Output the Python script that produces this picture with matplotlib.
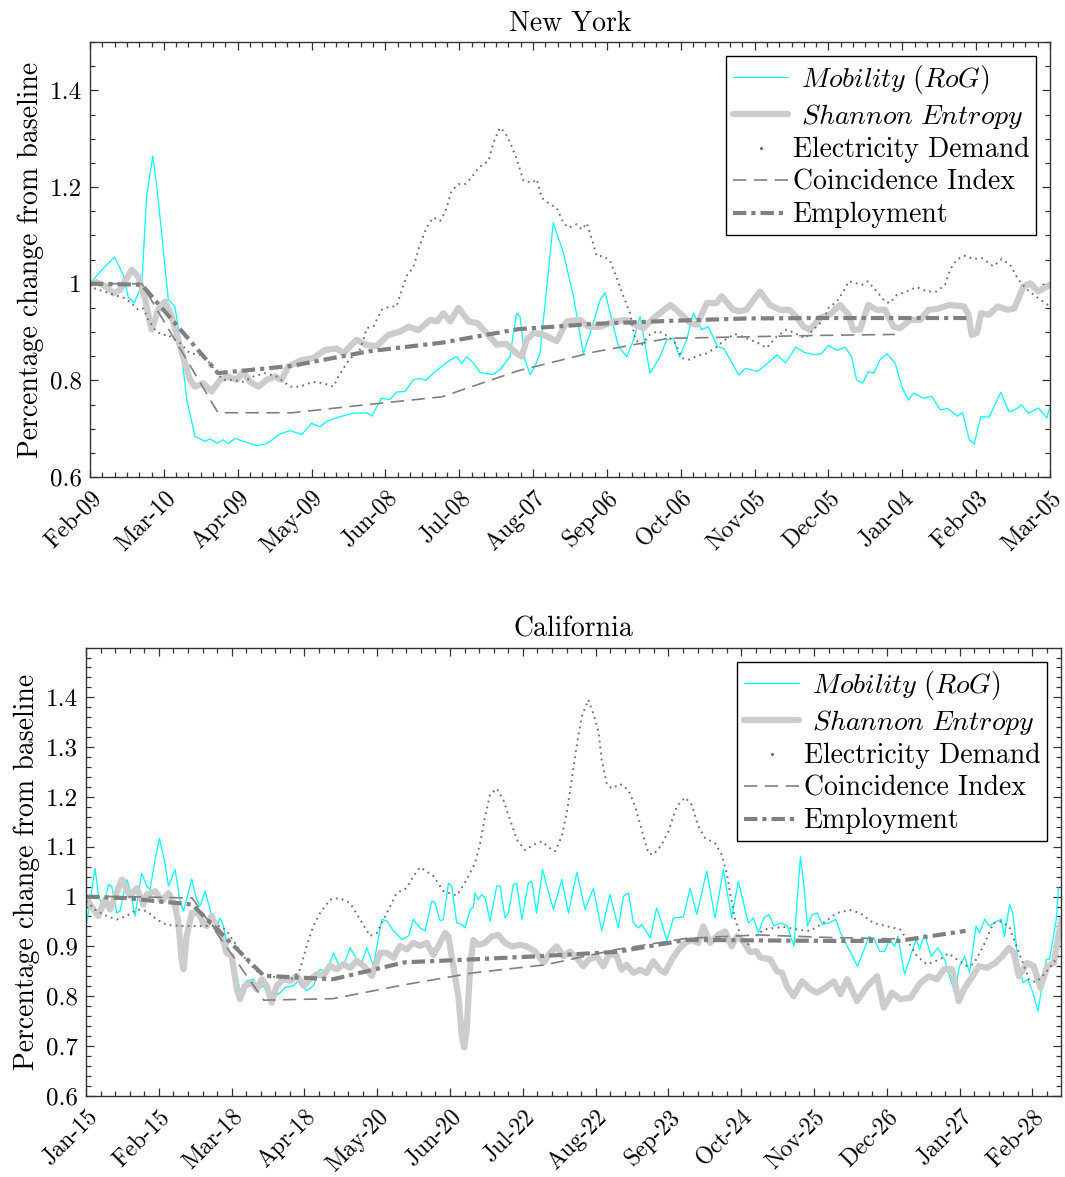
import matplotlib
matplotlib.use('Agg')
import matplotlib.pyplot as plt
import numpy as np
from matplotlib.lines import Line2D
from matplotlib.ticker import AutoMinorLocator, MultipleLocator, FixedLocator, FuncFormatter

plt.rcParams['font.family'] = 'serif'
plt.rcParams['font.serif'] = ['cmr10']
plt.rcParams['mathtext.fontset'] = 'cm'
plt.rcParams['axes.formatter.use_mathtext'] = True

# ---------------- New York (days since Feb 9, 2020) ----------------
ny_ticklabels = ['Feb-09', 'Mar-10', 'Apr-09', 'May-09', 'Jun-08', 'Jul-08', 'Aug-07',
                 'Sep-06', 'Oct-06', 'Nov-05', 'Dec-05', 'Jan-04', 'Feb-03', 'Mar-05']

ny_mob_day = [0, 4, 7, 10, 13.5, 15.6, 18, 20, 21, 23, 25.5, 27.1, 29.1, 31.8, 34.5, 36.6, 39.3,
              42.7, 46.7, 48.8, 51.5, 54.2, 56.2, 58.9, 62.3, 67.7, 71.8, 77.2, 81.3, 86, 90,
              93.4, 96.2, 101.6, 107, 112.4, 114.4, 118.5, 121.9, 124.6, 128, 131.3, 134, 136.5,
              139.5, 142.9, 146.3, 149, 151, 153, 156, 158.5, 161, 163.7, 166.6, 170.6, 173.3,
              174.7, 176.7, 178.8, 180.8, 182.8, 185.6, 188.2, 192.3, 196.4, 200.4, 203.2,
              207.3, 209.3, 211.3, 214.7, 218.1, 220.8, 223.5, 227.5, 231.6, 234.3, 237, 239.5,
              242.4, 245.1, 248.5, 251.2, 254.9, 257.5, 263.6, 266.3, 271.1, 274.5, 279.2,
              282.6, 286.7, 290.1, 294.1, 297, 300, 303.4, 306.7, 309.4, 311.4, 313.9, 316.2,
              318.5, 321, 323.7, 327.1, 329.8, 332.5, 334.6, 338.6, 342, 345.4, 348.4, 352.4,
              354.5, 357.2, 359.2, 361.9, 365.3, 367.3, 370, 373.4, 375.8, 378.5, 381.2, 385.3,
              388.7, 390]
ny_mob_val = [1.000, 1.024, 1.040, 1.055, 1.018, 0.972, 0.960, 0.985, 0.994, 1.181, 1.264, 1.202,
              1.105, 0.967, 0.953, 0.884, 0.760, 0.684, 0.674, 0.679, 0.670, 0.677, 0.669, 0.680,
              0.674, 0.665, 0.669, 0.689, 0.696, 0.688, 0.711, 0.704, 0.715, 0.725, 0.732, 0.733,
              0.726, 0.763, 0.760, 0.776, 0.777, 0.801, 0.804, 0.800, 0.815, 0.829, 0.842, 0.849,
              0.835, 0.849, 0.835, 0.816, 0.814, 0.812, 0.822, 0.849, 0.939, 0.932, 0.843, 0.812,
              0.829, 0.856, 0.994, 1.126, 1.064, 0.974, 0.856, 0.898, 0.967, 0.981, 0.939, 0.870,
              0.849, 0.884, 0.932, 0.815, 0.849, 0.884, 0.887, 0.849, 0.884, 0.939, 0.905, 0.911,
              0.870, 0.866, 0.811, 0.825, 0.818, 0.832, 0.853, 0.836, 0.869, 0.858, 0.853, 0.855,
              0.872, 0.862, 0.869, 0.849, 0.801, 0.794, 0.818, 0.815, 0.843, 0.855, 0.836, 0.787,
              0.759, 0.774, 0.763, 0.767, 0.739, 0.742, 0.726, 0.733, 0.677, 0.668, 0.725, 0.724,
              0.746, 0.775, 0.735, 0.739, 0.749, 0.732, 0.743, 0.722, 0.746]

ny_ent_day = [0, 2.7, 7, 9.5, 12.2, 16.9, 19.6, 22.3, 25, 27.7, 30.5, 33.2, 36.6, 40.6, 42.7, 46,
              49.4, 52.8, 56.2, 59.6, 62.3, 65, 68.4, 71.8, 75.1, 77.8, 80.6, 86, 90.7, 95.5,
              100.2, 103, 108.3, 112.4, 116.5, 121.2, 126, 129.3, 133.4, 138.2, 141, 143.6, 146.3,
              149.7, 153.8, 157.5, 161.1, 165.2, 169, 173.3, 175.4, 177.4, 180.1, 184, 189.6,
              193.7, 199.2, 202.5, 207.3, 212.7, 218.1, 221.5, 224.9, 229, 235.8, 239.7, 243.8,
              246.5, 250.6, 254.5, 256.6, 261.3, 263.9, 266.6, 272.2, 276.2, 280.3, 284.1, 287,
              289.8, 292.4, 296.5, 300.6, 304.7, 308.2, 310, 312.8, 316.2, 319.6, 323, 326.4,
              329.1, 333.2, 337.3, 340.6, 344.4, 348.9, 355, 356.9, 358.2, 360.3, 362, 365.3,
              368.7, 372.8, 375.5, 379.2, 381.9, 385.3, 390]
ny_ent_val = [1.000, 1.003, 0.993, 0.980, 0.987, 1.029, 1.015, 0.970, 0.905, 0.946, 0.963, 0.932,
              0.870, 0.801, 0.787, 0.794, 0.777, 0.801, 0.808, 0.801, 0.818, 0.797, 0.787, 0.801,
              0.808, 0.801, 0.829, 0.842, 0.846, 0.863, 0.866, 0.856, 0.884, 0.873, 0.871, 0.894,
              0.901, 0.911, 0.904, 0.925, 0.922, 0.939, 0.922, 0.950, 0.922, 0.918, 0.898, 0.874,
              0.876, 0.856, 0.849, 0.884, 0.898, 0.895, 0.881, 0.922, 0.925, 0.911, 0.911, 0.922,
              0.925, 0.915, 0.908, 0.929, 0.956, 0.939, 0.919, 0.915, 0.960, 0.960, 0.974, 0.946,
              0.943, 0.946, 0.984, 0.956, 0.946, 0.946, 0.932, 0.911, 0.905, 0.929, 0.936, 0.956,
              0.936, 0.905, 0.905, 0.956, 0.946, 0.946, 0.911, 0.908, 0.925, 0.925, 0.946, 0.948,
              0.956, 0.953, 0.936, 0.894, 0.898, 0.939, 0.936, 0.953, 0.946, 0.949, 0.994, 1.001,
              0.984, 0.998]

ny_elec_day = [0, 2, 8, 11.5, 14.2, 17.6, 19.6, 21.7, 23.7, 26.4, 29.1, 31.8, 34.5, 36.6, 40.6,
               44.7, 48.1, 51.5, 54.2, 58.3, 62.3, 66.4, 71.1, 75.8, 81.3, 85.3, 90.7, 94.8, 98.9,
               100.9, 103, 105.7, 109.1, 111.1, 112.4, 115.2, 118.5, 121.9, 124.6, 126, 128.6,
               131.3, 134, 136.7, 139.5, 142.2, 144.2, 146.9, 149.7, 152.4, 155.1, 157.8, 161.9,
               163.9, 166.6, 168.7, 170.7, 173.4, 176.1, 179.5, 181.5, 183.5, 186.9, 189.6, 192.3,
               194.4, 197.8, 199.8, 201.8, 203.9, 205.9, 208.6, 211.3, 214, 216.7, 219.4, 221.5,
               224.2, 227.5, 230.9, 235, 237.8, 240.5, 243.5, 246.5, 250.6, 254, 258, 262, 266.8,
               271.5, 274.9, 279, 283, 286.4, 290.5, 293.9, 298, 300, 303.4, 306.1, 308.2, 311,
               314, 316, 319.6, 323, 325, 327.8, 331.8, 335.9, 340, 344, 347.4, 349.4, 352.1,
               355.5, 358.9, 362.3, 367, 370.4, 373.8, 377.2, 380.6, 385.3, 390]
ny_elec_val = [1.000, 0.990, 0.980, 0.974, 0.970, 0.956, 0.946, 0.949, 0.925, 0.905, 0.894, 0.894,
               0.884, 0.877, 0.856, 0.853, 0.839, 0.815, 0.801, 0.801, 0.797, 0.808, 0.815, 0.808,
               0.787, 0.787, 0.797, 0.794, 0.787, 0.808, 0.825, 0.846, 0.856, 0.884, 0.908, 0.912,
               0.946, 0.953, 0.953, 0.977, 1.016, 1.033, 1.080, 1.116, 1.137, 1.130, 1.147, 1.192,
               1.206, 1.206, 1.220, 1.240, 1.254, 1.292, 1.323, 1.312, 1.292, 1.257, 1.213, 1.209,
               1.216, 1.178, 1.164, 1.157, 1.126, 1.116, 1.123, 1.112, 1.125, 1.092, 1.057, 1.057,
               1.047, 1.012, 0.974, 0.939, 0.884, 0.874, 0.895, 0.902, 0.891, 0.877, 0.846, 0.843,
               0.850, 0.856, 0.867, 0.884, 0.896, 0.887, 0.877, 0.867, 0.891, 0.905, 0.898, 0.887,
               0.905, 0.925, 0.950, 0.963, 0.984, 1.005, 1.001, 0.998, 1.005, 0.984, 0.963, 0.960,
               0.977, 0.984, 0.993, 0.984, 0.984, 0.998, 1.029, 1.050, 1.058, 1.051, 1.053, 1.036,
               1.051, 1.039, 1.008, 0.988, 0.970, 0.953]

ny_coin_day = [0, 21, 52, 82, 113, 143, 174, 205, 235, 266, 296, 327]
ny_coin_val = [1.000, 1.000, 0.733, 0.733, 0.750, 0.766, 0.820, 0.859, 0.887, 0.890, 0.893, 0.895]

ny_emp_day = [0, 21, 52, 82, 113, 143, 174, 205, 235, 266, 296, 327, 356]
ny_emp_val = [1.000, 0.998, 0.815, 0.830, 0.860, 0.878, 0.906, 0.917, 0.923, 0.928, 0.929, 0.929, 0.929]

# ---------------- California (days since Jan 15, 2020) ----------------
ca_ticklabels = ['Jan-15', 'Feb-15', 'Mar-18', 'Apr-18', 'May-20', 'Jun-20', 'Jul-22', 'Aug-22',
                 'Sep-23', 'Oct-24', 'Nov-25', 'Dec-26', 'Jan-27', 'Feb-28']

ca_mob_day = [0, 1, 3.9, 5.3, 7.5, 9.7, 11.1, 13.3, 14.7, 17.6, 19.1, 21.2, 24.1, 26.3, 27.7, 29.9,
              31.8, 34.2, 35.7, 38.6, 40.7, 42.2, 45.8, 47.9, 49.4, 51.6, 53.7, 55.9, 58.1, 59.5,
              61.7, 64.6, 66.7, 69.6, 72.5, 74.7, 76.8, 79.7, 84.1, 86.2, 89.8, 92, 95.6, 98.5,
              101.4, 104.3, 107.2, 110, 111.5, 114.4, 117.3, 119.4, 121.6, 124.5, 128.1, 130.3,
              133.2, 136.8, 139.7, 141.8, 144.7, 146.9, 149.8, 151.2, 153.4, 154.8, 157, 158.4,
              160.6, 162.8, 164.2, 166.4, 167.8, 168.5, 170, 171.4, 172.9, 175, 177.9, 179.4,
              181.5, 183, 185.1, 186.6, 188.8, 191.6, 193.1, 195.2, 197.8, 199.6, 202.5, 206.1,
              209, 212.6, 216.2, 219.8, 223.4, 227, 230.6, 232.8, 235, 237.1, 239.3, 240.7, 244.4,
              247.2, 249.4, 251.6, 254.5, 258.8, 261.7, 264.6, 268.9, 272.5, 276.1, 279.7, 282.6,
              286.9, 289.1, 291.3, 293.6, 295.8, 298, 300.9, 303.8, 306.7, 308.1, 309.5, 311,
              312.5, 314.7, 316.8, 319, 321.9, 324.8, 326.9, 330.5, 334.2, 337.1, 339.2, 341.5,
              343.9, 346, 348.1, 350.3, 351.7, 354.6, 357.5, 359.7, 361.1, 363.3, 366.2, 369,
              371.9, 374.1, 376.3, 378.4, 380.6, 382.8, 385.6, 387.1, 389.3, 391.4, 394.3, 396.5,
              397.9, 400.1, 401.5, 403.7, 405.9, 408, 410.2, 412.4, 414.6, 416, 417.4, 418.9,
              420.3, 421.3]
ca_mob_val = [0.941, 0.967, 1.057, 1.004, 0.977, 1.024, 1.021, 0.967, 0.971, 1.034, 1.014, 0.961,
              1.047, 1.021, 1.014, 1.074, 1.117, 1.067, 1.021, 1.054, 0.991, 0.971, 1.035, 0.994,
              0.981, 1.011, 0.974, 0.934, 0.957, 0.941, 0.894, 0.861, 0.811, 0.831, 0.834, 0.814,
              0.821, 0.794, 0.807, 0.817, 0.821, 0.831, 0.811, 0.821, 0.854, 0.847, 0.887, 0.857,
              0.861, 0.897, 0.874, 0.867, 0.897, 0.861, 0.954, 0.951, 0.931, 0.914, 0.921, 0.954,
              0.937, 0.931, 0.991, 0.987, 0.951, 0.954, 1.027, 1.021, 0.947, 0.944, 0.937, 0.974,
              0.979, 1.007, 0.994, 1.004, 0.997, 0.951, 1.021, 1.021, 0.957, 0.967, 1.024, 1.026,
              0.954, 1.027, 1.031, 0.967, 1.054, 1.021, 0.974, 1.034, 0.967, 1.049, 0.974, 1.017,
              0.931, 1.004, 0.937, 1.001, 1.007, 0.947, 0.937, 0.944, 0.917, 0.977, 0.947, 0.911,
              0.957, 0.959, 1.017, 0.964, 1.051, 0.957, 1.054, 0.957, 1.031, 0.947, 0.957, 0.927,
              0.957, 0.964, 0.941, 0.947, 0.941, 0.900, 0.994, 1.080, 1.021, 0.941, 0.964, 0.967,
              0.944, 0.947, 0.954, 0.927, 0.894, 0.860, 0.894, 0.920, 0.914, 0.890, 0.890, 0.914,
              0.900, 0.920, 0.844, 0.885, 0.914, 0.894, 0.924, 0.880, 0.897, 0.874, 0.840, 0.807,
              0.860, 0.880, 0.847, 0.941, 0.927, 0.954, 0.941, 0.950, 0.954, 0.920, 0.984, 0.967,
              0.874, 0.827, 0.834, 0.807, 0.770, 0.834, 0.874, 0.874, 0.914, 0.954, 1.017]

ca_ent_day = [0, 3.2, 5.3, 8.2, 10.4, 12.6, 15.5, 19.1, 22, 24.8, 26.3, 29.9, 32.8, 35.7, 38.6, 40,
              41.4, 42.2, 43.6, 45.8, 48.7, 50.8, 52.3, 54.4, 56.6, 58.8, 60.9, 63.1, 65.3, 66.7,
              68.9, 71.8, 73.9, 76.1, 78.3, 80.4, 82.6, 85.5, 88.4, 91.3, 94.2, 97.1, 99.9, 102.8,
              105.7, 108.6, 111.5, 114.4, 117.3, 120.2, 123.8, 127.4, 130.3, 133.2, 136, 138.9,
              141.8, 144.7, 147.6, 150.5, 152.6, 155.5, 157, 159.1, 161.3, 162.8, 163.8, 164.9,
              166.4, 167.8, 170, 172.8, 175.7, 178.6, 181.5, 184.4, 188, 190.9, 194.5, 198.2, 201,
              203.9, 206.8, 209.7, 212.6, 215.4, 217.6, 221.2, 224.1, 227, 229.9, 232, 234.2,
              237.1, 240, 242.9, 245.7, 248.6, 250.8, 253.7, 256.6, 259.5, 262.4, 265.2, 267.4,
              270.3, 273.9, 276.8, 279.7, 281.9, 284.7, 287.6, 290.5, 292, 296.4, 299.3, 301.5,
              303.6, 306.5, 310.2, 313.8, 316.7, 320.3, 323.9, 326.8, 329.7, 334, 338.4, 342.7,
              345.6, 349.2, 352.8, 357.2, 361.5, 365.1, 368.7, 371.6, 375.2, 378.1, 380.3, 383.2,
              386.8, 390.4, 394, 396.9, 399.8, 402, 404.1, 407.7, 410.6, 413.5, 416.4, 419.3, 422.5]
ca_ent_val = [0.997, 0.974, 0.961, 0.994, 0.974, 1.001, 1.034, 1.001, 1.017, 0.984, 1.004, 1.011,
              0.991, 1.007, 0.981, 0.947, 0.874, 0.854, 0.921, 0.967, 0.967, 0.947, 0.941, 0.961,
              0.937, 0.921, 0.887, 0.881, 0.814, 0.794, 0.821, 0.827, 0.814, 0.834, 0.821, 0.787,
              0.821, 0.834, 0.831, 0.841, 0.821, 0.834, 0.844, 0.841, 0.861, 0.854, 0.864, 0.857,
              0.871, 0.861, 0.841, 0.887, 0.887, 0.877, 0.901, 0.894, 0.907, 0.901, 0.907, 0.883,
              0.900, 0.927, 0.920, 0.860, 0.800, 0.720, 0.697, 0.733, 0.860, 0.913, 0.903, 0.907,
              0.920, 0.923, 0.907, 0.900, 0.903, 0.900, 0.890, 0.867, 0.887, 0.900, 0.880, 0.890,
              0.877, 0.860, 0.873, 0.880, 0.860, 0.887, 0.880, 0.853, 0.863, 0.847, 0.853, 0.847,
              0.870, 0.853, 0.847, 0.873, 0.893, 0.907, 0.913, 0.907, 0.940, 0.907, 0.923, 0.930,
              0.900, 0.920, 0.910, 0.889, 0.890, 0.878, 0.874, 0.850, 0.847, 0.820, 0.800, 0.830,
              0.814, 0.807, 0.817, 0.830, 0.804, 0.834, 0.790, 0.820, 0.840, 0.777, 0.807, 0.794,
              0.797, 0.827, 0.840, 0.834, 0.854, 0.854, 0.790, 0.814, 0.834, 0.860, 0.857, 0.867,
              0.880, 0.897, 0.887, 0.840, 0.867, 0.860, 0.817, 0.860, 0.867, 0.954]

ca_elec_day = [0, 4.6, 9, 13.3, 17.6, 22, 26.3, 30.6, 35, 40.7, 46.5, 52.3, 58.1, 60.9, 65.3,
               69.6, 73.9, 78.3, 84.1, 89.8, 92.7, 95.6, 98.5, 101.4, 105.7, 110, 114.4, 118.7,
               123, 126, 130.3, 134.6, 138.9, 141.8, 144.7, 150.5, 154.8, 160.6, 164.9, 168.5,
               170.7, 172.9, 175, 177.9, 180.8, 183.7, 186.6, 190.2, 193.8, 197.4, 201, 203.2,
               206.1, 208.2, 210.4, 212.6, 214.7, 217.6, 219.8, 222, 223.4, 225.6, 227.7, 231.4,
               235, 237.9, 240.7, 243.6, 245.8, 249.4, 252.3, 255.9, 259.5, 262.4, 265.3, 268.2,
               272.5, 275.4, 277.6, 279, 281.2, 284.1, 287, 291.3, 294.9, 302.1, 309.3, 313.7,
               319.4, 325.2, 331, 335.3, 341.1, 348.3, 352.7, 355.5, 359.9, 364.2, 370, 373.6,
               377.2, 381.5, 384.4, 388.8, 393.1, 396.3, 399.9, 404.2, 408.6, 411.5, 415.8, 420.1,
               423.3]
ca_elec_val = [0.991, 0.971, 0.961, 0.954, 0.961, 0.974, 0.971, 0.954, 0.943, 0.941, 0.941, 0.941,
               0.941, 0.931, 0.901, 0.871, 0.851, 0.841, 0.837, 0.835, 0.854, 0.901, 0.941, 0.967,
               0.994, 0.997, 0.987, 0.954, 0.921, 0.927, 0.967, 1.007, 1.017, 1.041, 1.059, 1.041,
               1.011, 1.002, 1.034, 1.067, 1.107, 1.161, 1.204, 1.217, 1.194, 1.154, 1.114, 1.093,
               1.104, 1.111, 1.097, 1.091, 1.121, 1.167, 1.234, 1.304, 1.361, 1.395, 1.367, 1.331,
               1.274, 1.227, 1.217, 1.226, 1.214, 1.181, 1.134, 1.087, 1.084, 1.104, 1.131, 1.181,
               1.199, 1.184, 1.141, 1.117, 1.107, 1.084, 1.047, 1.007, 0.954, 0.914, 0.904, 0.927,
               0.935, 0.939, 0.933, 0.931, 0.947, 0.967, 0.973, 0.967, 0.947, 0.939, 0.934, 0.914,
               0.881, 0.864, 0.874, 0.886, 0.874, 0.861, 0.864, 0.901, 0.947, 0.950, 0.940, 0.887,
               0.833, 0.828, 0.847, 0.873, 0.890]

ca_coin_day = [0, 17, 46, 77, 107, 138, 168, 199, 230, 260, 291, 321, 352]
ca_coin_val = [1.000, 1.000, 0.997, 0.792, 0.795, 0.823, 0.847, 0.863, 0.894, 0.916, 0.923, 0.918, 0.915]

ca_emp_day = [0, 17, 46, 77, 107, 138, 168, 199, 230, 260, 291, 321, 352, 381]
ca_emp_val = [1.000, 0.997, 0.984, 0.841, 0.834, 0.868, 0.874, 0.881, 0.889, 0.913, 0.912, 0.911, 0.911, 0.931]

labels = [r'$\ \mathit{Mobility\ (RoG)}$', r'$\ \mathit{Shannon\ Entropy}$',
          'Electricity Demand', 'Coincidence Index', 'Employment']


def draw_panel(ax, title, mob, ent, elec, coin, emp, ticklabels, tick_end, xmax, n_minor,
               ymajor, ytop):
    h1, = ax.plot(*mob, color='cyan', lw=0.9)
    h2, = ax.plot(*ent, color='#cccccc', lw=4.5, solid_capstyle='round', solid_joinstyle='round')
    ax.plot(*elec, color='#6e6e6e', lw=1.4, ls=(0, (0.9, 2.2)))
    h4, = ax.plot(*coin, color='#808080', lw=1.2, ls=(0, (8, 4.5)))
    h5, = ax.plot(*emp, color='#808080', lw=3.0, ls=(0, (3.2, 1.2, 1.0, 1.2)))
    h3 = Line2D([], [], ls='none', marker='.', ms=2.5, color='#6e6e6e')

    ax.set_xlim(0, xmax)
    ax.set_ylim(0.6, ytop)
    major = np.linspace(0, tick_end, len(ticklabels))
    ax.xaxis.set_major_locator(FixedLocator(major))
    step = (major[1] - major[0]) / n_minor
    ax.xaxis.set_minor_locator(FixedLocator(np.arange(0, xmax + 0.01, step)))
    ax.set_xticklabels(ticklabels, rotation=45, ha='right', va='top', rotation_mode='anchor',
                       fontsize=17)
    ax.yaxis.set_major_locator(MultipleLocator(ymajor))
    ax.yaxis.set_minor_locator(AutoMinorLocator())
    ax.yaxis.set_major_formatter(FuncFormatter(lambda v, p: f'{v:g}'))
    ax.tick_params(which='both', direction='in', top=True, right=True, color='#333333',
                   width=0.9, pad=6)
    ax.tick_params(axis='y', labelsize=18)
    ax.tick_params(axis='x', which='major', pad=7)
    ax.tick_params(which='major', length=6)
    ax.tick_params(which='minor', length=3.3)
    for s in ax.spines.values():
        s.set_color('#333333')
        s.set_linewidth(1.0)
    ax.set_title(title, fontsize=20, pad=8)
    ax.set_ylabel('Percentage change from baseline', fontsize=20)
    leg = ax.legend([h1, h2, h3, h4, h5], labels, loc='upper right', fontsize=20,
                    fancybox=False, framealpha=1, edgecolor='black', labelspacing=0.22,
                    borderpad=0.25, handletextpad=0.15, handlelength=2.0, borderaxespad=0.5)
    leg.get_frame().set_linewidth(1.0)


fig = plt.figure(figsize=(10.65, 11.77), dpi=100)
ax1 = fig.add_axes([0.0845, 0.5947, 0.9014, 0.3696])
ax2 = fig.add_axes([0.0808, 0.0690, 0.9155, 0.3804])

draw_panel(ax1, 'New York', (ny_mob_day, ny_mob_val), (ny_ent_day, ny_ent_val),
           (ny_elec_day, ny_elec_val), (ny_coin_day, ny_coin_val), (ny_emp_day, ny_emp_val),
           ny_ticklabels, 390, 390, 6, 0.2, 1.5)
draw_panel(ax2, 'California', (ca_mob_day, ca_mob_val), (ca_ent_day, ca_ent_val),
           (ca_elec_day, ca_elec_val), (ca_coin_day, ca_coin_val), (ca_emp_day, ca_emp_val),
           ca_ticklabels, 410, 422.4, 5, 0.1, 1.499)

fig.savefig('out.png', dpi=100)
